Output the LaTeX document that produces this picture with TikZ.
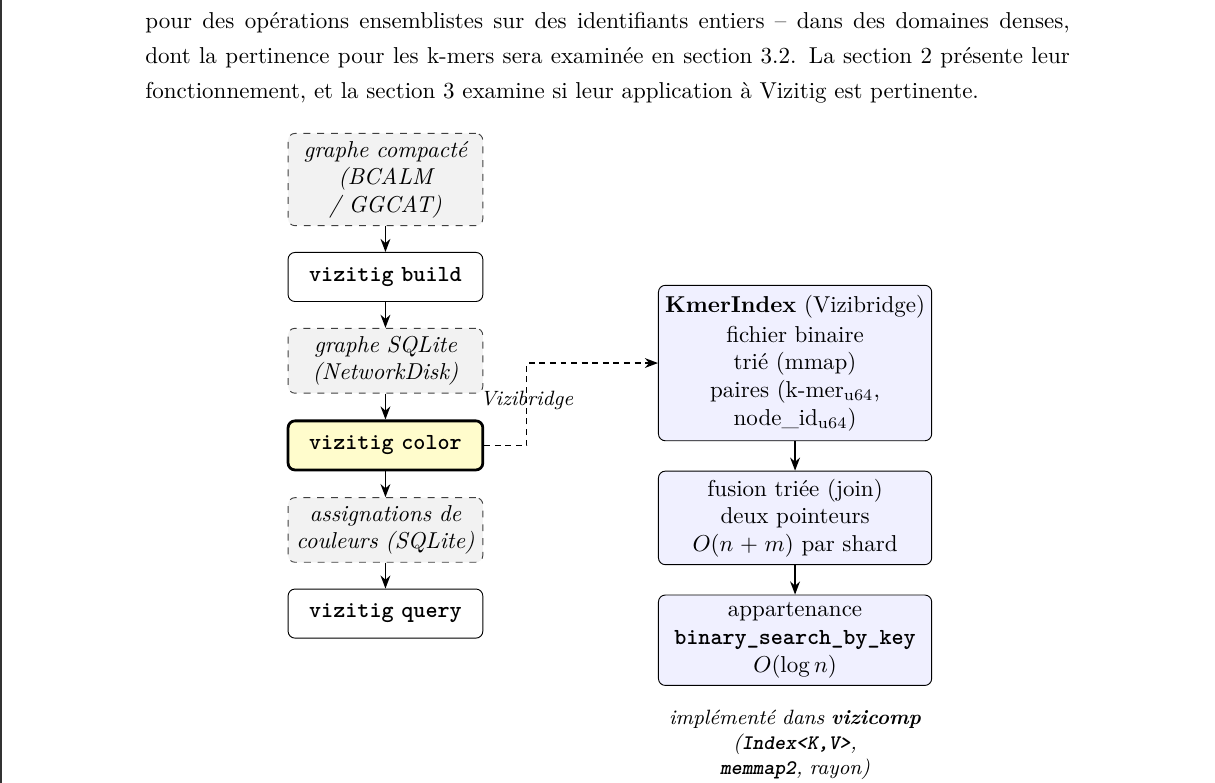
\documentclass[tikz,border=0pt]{standalone}
\usepackage{tikz}
\usetikzlibrary{positioning, arrows.meta}

\begin{document}
\begin{tikzpicture}
    [
        node distance=3.95mm and 26.7mm,
        data_node/.style={rectangle, rounded corners=3pt, draw=black!75, dashed, fill=black!5, text width=2.8cm, inner xsep=2.5pt, align=center, font=\itshape},
        cmd_node/.style={rectangle, rounded corners=3pt, draw=black, fill=white, text width=2.8cm, inner xsep=2.5pt, minimum height=7.5mm, align=center, font=\ttfamily\bfseries},
        index_node/.style={rectangle, rounded corners=3pt, draw=black, fill=blue!6, text width=4cm, inner xsep=2.5pt, align=center},
    ]
        \useasboundingbox (0,0) rectangle (528.3pt,-340.4pt) ;
        \draw[line width=1pt, black!80] (0.5pt,0pt) -- (0.5pt,-340.4pt) ;
        \node[anchor=north west, inner sep=0pt, text width=402pt, align=justify] (para) at (63pt,-5.3pt) {\noindent\baselineskip=15.2pt pour des opérations ensemblistes sur des identifiants entiers -- dans des domaines denses,\linebreak dont la pertinence pour les k-mers sera examinée en section 3.2. La section 2 présente leur\linebreak fonctionnement, et la section 3 examine si leur application à Vizitig est pertinente.\par} ;
        \node[data_node, anchor=north] (compact) at (167.6pt,-57.8pt) {graphe compacté (BCALM / GGCAT)} ;
        \node[cmd_node] (build) [below = of compact] {vizitig build} ;
        \node[data_node] (sqlite) [below = of build] {graphe SQLite (NetworkDisk)} ;
        \node[cmd_node, fill=yellow!20, very thick] (color) [below = of sqlite] {vizitig color} ;
        \node[data_node] (colors) [below = of color] {assignations de couleurs (SQLite)} ;
        \node[cmd_node] (query) [below = of colors] {vizitig query} ;
        \node[index_node, inner ysep=4.3pt] (kmer) [right = of sqlite, yshift=-1pt] {\textbf{KmerIndex} (Vizibridge)\\[1pt] fichier binaire\\ trié (mmap)\\ paires (k-mer$_{\mathrm{u64}}$,\\ node\_id$_{\mathrm{u64}}$)} ;
        \node[index_node] (join) [below = 4.5mm of kmer] {fusion triée (join)\\ deux pointeurs\\ $O(n+m)$ par shard} ;
        \node[index_node] (member) [below = 4.5mm of join] {appartenance\\ \texttt{\textbf{binary\_search\_by\_key}}\\ $O(\log n)$} ;
        \node[text width=4cm, align=center, font=\small\itshape] (impl) [below = 2.4mm of member] {implémenté dans \textbf{vizicomp}\\ (\texttt{\textbf{Index<K,V>}},\\ \texttt{\textbf{memmap2}}, rayon)} ;
        \draw[-{Stealth}, semithick] (compact) -- (build) ;
        \draw[-{Stealth}, semithick] (build) -- (sqlite) ;
        \draw[-{Stealth}, semithick] (sqlite) -- (color) ;
        \draw[-{Stealth}, semithick] (color) -- (colors) ;
        \draw[-{Stealth}, semithick] (colors) -- (query) ;
        \draw[-{Stealth}, semithick] (kmer) -- (join) ;
        \draw[-{Stealth}, semithick] (join) -- (member) ;
        \draw[-{Stealth}, semithick, dash pattern=on 2.6pt off 2pt] (color.east) -- ++(6.5mm,0) |- node[pos=0.27, font=\small\itshape] {Vizibridge} (kmer.west) ;
    \end{tikzpicture}
\end{document}
